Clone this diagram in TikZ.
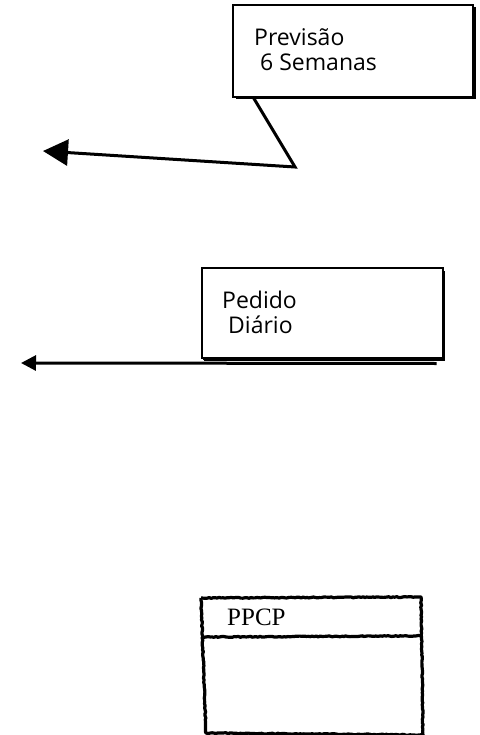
\documentclass[tikz,border=0pt]{standalone}
\usepackage{fontspec}
\usetikzlibrary{positioning, arrows.meta, shadows, decorations.pathmorphing}

\newfontfamily\boxfont{Open Sans}
\newfontfamily\sketchfont{Liberation Serif}

\tikzset{
    infobox/.style={draw, fill=white, line width=2.5pt, inner sep=0pt,
        drop shadow={shadow xshift=2.5pt, shadow yshift=-2.5pt, fill=black, opacity=1}},
    boxtext/.style={anchor=base west, inner sep=0pt, font=\boxfont\fontsize{23}{24}\selectfont},
    flow/.style={line width=3pt}
}

\begin{document}
\begin{tikzpicture}[x=1pt, y=-1pt]
    \useasboundingbox (0,0) rectangle (479,735);

    % Forecast box
    \node[infobox, minimum width=240pt, minimum height=92pt] (previsao) at (353,51) {};
    \node[boxtext] (previsao1) at (254,46) {Previsão};
    \node[boxtext] (previsao2) at (260,71) {6 Semanas};

    % Daily order box
    \node[infobox, drop shadow={shadow xshift=1.5pt, shadow yshift=-1.5pt, fill=black, opacity=1},
        line width=2pt, minimum width=241pt, minimum height=90pt] (pedido) at (322,313) {};
    \node[boxtext] (pedido1) at (222,308) {Pedido};
    \node[boxtext] (pedido2) at (228,333) {Diário};

    % Arrows
    \coordinate (fcbend) at (295,167);
    \coordinate (fcend) at (43,151);
    \draw[flow, line join=miter, -{Triangle[length=25pt, width=26pt]}]
        (previsao.south west) ++(22,0) -- (fcbend) -- (fcend);
    \coordinate (odend) at (21,363);
    \draw[flow, -{Triangle[length=15pt, width=15pt]}]
        (pedido.south east) ++(-7,4.5) -- (odend);

    % PPCP sketch
    \node[anchor=base west, inner sep=0pt, font=\sketchfont\fontsize{25}{28}\selectfont] (ppcp) at (227,625) {PPCP};
    \coordinate (ptl) at (201,598);
    \coordinate (ptr) at (421,597);
    \coordinate (pbr) at (423,735);
    \coordinate (pbl) at (206,733);
    \begin{scope}[line width=3.2pt, line join=round,
        decorate, decoration={random steps, segment length=2pt, amplitude=0.5pt}]
        \draw[decorate] (ptl) -- (ptr) -- (pbr);
        \draw[decorate] (ptl) -- (pbl) -- (pbr);
        \draw[decorate] (202,637) -- (422,636);
    \end{scope}
\end{tikzpicture}
\end{document}
